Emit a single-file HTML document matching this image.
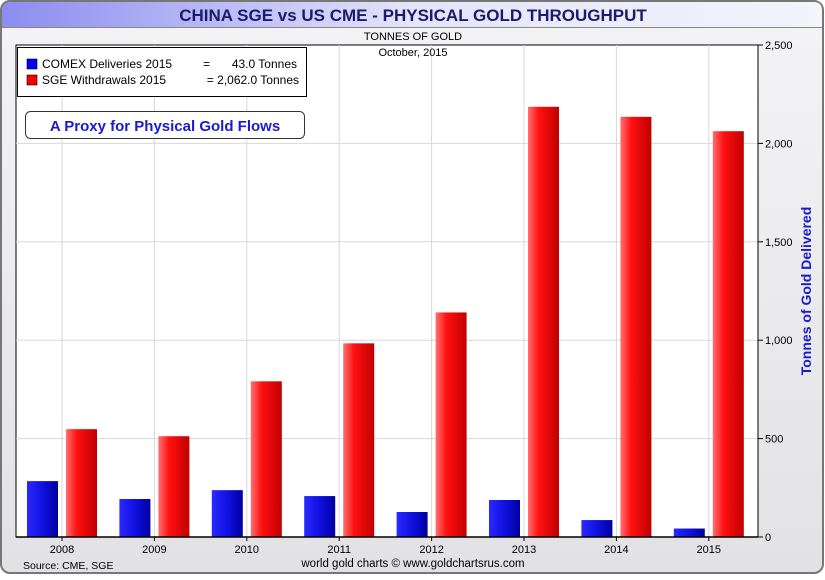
<!DOCTYPE html>
<html><head><meta charset="utf-8"><style>
body{margin:0;width:825px;height:575px;overflow:hidden;background:#fff;font-family:"Liberation Sans",sans-serif}
</style></head><body>
<svg width="825" height="575" xmlns="http://www.w3.org/2000/svg">
<defs>
<linearGradient id="tb" x1="0" x2="1"><stop offset="0" stop-color="#8c8cf0"/><stop offset="0.5" stop-color="#e4e4fa"/><stop offset="1" stop-color="#f4f4fc"/></linearGradient>
<linearGradient id="bg" x1="0" x2="0" y1="0" y2="1"><stop offset="0" stop-color="#f4f4f6"/><stop offset="1" stop-color="#e2e2e4"/></linearGradient>
<linearGradient id="bl" x1="0" x2="1"><stop offset="0" stop-color="#2a2aff"/><stop offset="0.5" stop-color="#1010e0"/><stop offset="1" stop-color="#0000a0"/></linearGradient>
<linearGradient id="rd" x1="0" x2="1"><stop offset="0" stop-color="#ff7070"/><stop offset="0.35" stop-color="#ff1010"/><stop offset="1" stop-color="#c00000"/></linearGradient>
</defs>
<rect x="1" y="1" width="822" height="572" rx="9" fill="url(#bg)" stroke="#777" stroke-width="2"/>
<path d="M2,27 L2,11 Q2,2 11,2 L814,2 Q822,2 822,11 L822,27 Z" fill="url(#tb)"/>
<line x1="2" y1="27.5" x2="822" y2="27.5" stroke="#888"/>
<text x="413" y="21" text-anchor="middle" font-size="17" font-weight="bold" fill="#1a1a6e">CHINA SGE vs US CME - PHYSICAL GOLD THROUGHPUT</text>
<text x="413" y="40" text-anchor="middle" font-size="11" fill="#000">TONNES OF GOLD</text>
<rect x="16" y="45" width="742" height="492" fill="#fff" stroke="#000"/>
<g id="grid"></g>
<g id="bars"></g>
<text x="413" y="56" text-anchor="middle" font-size="11">October, 2015</text>
<rect x="17.5" y="47.5" width="289" height="49" fill="#fff" stroke="#000"/>
<rect x="27" y="59" width="10" height="10" fill="#0000ff" stroke="#000" stroke-width="0.6"/>
<text x="42" y="68" font-size="12">COMEX Deliveries 2015</text>
<text x="203" y="68" font-size="12">=</text>
<text x="297" y="68" font-size="12" text-anchor="end">43.0 Tonnes</text>
<rect x="27" y="75" width="10" height="10" fill="#ff0000" stroke="#000" stroke-width="0.6"/>
<text x="42" y="84" font-size="12">SGE Withdrawals 2015</text>
<text x="299" y="84" font-size="12" text-anchor="end">= 2,062.0 Tonnes</text>
<rect x="25.5" y="111.5" width="279" height="27" rx="5" fill="#fff" stroke="#333"/>
<text x="165" y="131" text-anchor="middle" font-size="15" font-weight="bold" fill="#1a1ad0">A Proxy for Physical Gold Flows</text>
<g id="axes"></g>
<text transform="translate(811,291) rotate(-90)" text-anchor="middle" font-size="14" font-weight="bold" fill="#1a1ad0">Tonnes of Gold Delivered</text>
<text x="23" y="569" font-size="10.5">Source: CME, SGE</text>
<text x="413" y="567" text-anchor="middle" font-size="11.5">world gold charts © www.goldchartsrus.com</text>
</svg>
<script>
const years=["2008","2009","2010","2011","2012","2013","2014","2015"];
const comex=[284,193,238,208,127,188,86,43];
const sge=[548,512,791,984,1141,2186,2135,2062];
const yTicks=[0,500,1000,1500,2000,2500];
const yTickLabels=["0","500","1,000","1,500","2,000","2,500"];
const NS="http://www.w3.org/2000/svg";
const y0=537,yTop=45,yMax=2500;
function yS(v){return y0-(v/yMax)*(y0-yTop);}
function xS(i){return 62+i*92.4;}
function mk(t,a,p){const e=document.createElementNS(NS,t);for(const k in a)e.setAttribute(k,a[k]);p.appendChild(e);return e;}
const grid=document.getElementById('grid'),bars=document.getElementById('bars'),axes=document.getElementById('axes');
yTicks.forEach((v,i)=>{
 if(v>0&&v<yMax){const g=mk('line',{x1:16,x2:758,y1:yS(v),y2:yS(v),stroke:'#d8d8d8'},grid);
 
 }
 const t=mk('line',{x1:758,x2:763,y1:yS(v),y2:yS(v),stroke:'#000'},axes);
 
 
 const l=mk('text',{x:765,y:yS(v)+4,'font-size':11},axes);l.textContent=yTickLabels[i];
 
 
});
years.forEach((yr,i)=>{
 const x=xS(i);
 const g=mk('line',{x1:x,x2:x,y1:yTop,y2:y0,stroke:'#d8d8d8'},grid);
 
 
 const b=mk('rect',{x:x-35,y:yS(comex[i]),width:31,height:y0-yS(comex[i]),fill:'url(#bl)'},bars);
 
 
 const r=mk('rect',{x:x+4,y:yS(sge[i]),width:31,height:y0-yS(sge[i]),fill:'url(#rd)'},bars);
 
 
 const t=mk('line',{x1:x,x2:x,y1:y0,y2:y0+4,stroke:'#000'},axes);
 
 
 const l=mk('text',{x:x,y:553,'font-size':11,'text-anchor':'middle'},axes);l.textContent=yr;
 
 
});
const ax=mk('line',{x1:16,x2:758,y1:y0,y2:y0,stroke:'#000','stroke-width':1.5},axes);


const ay=mk('line',{x1:758,x2:758,y1:yTop,y2:y0,stroke:'#000'},axes);


</script>
</body></html>
